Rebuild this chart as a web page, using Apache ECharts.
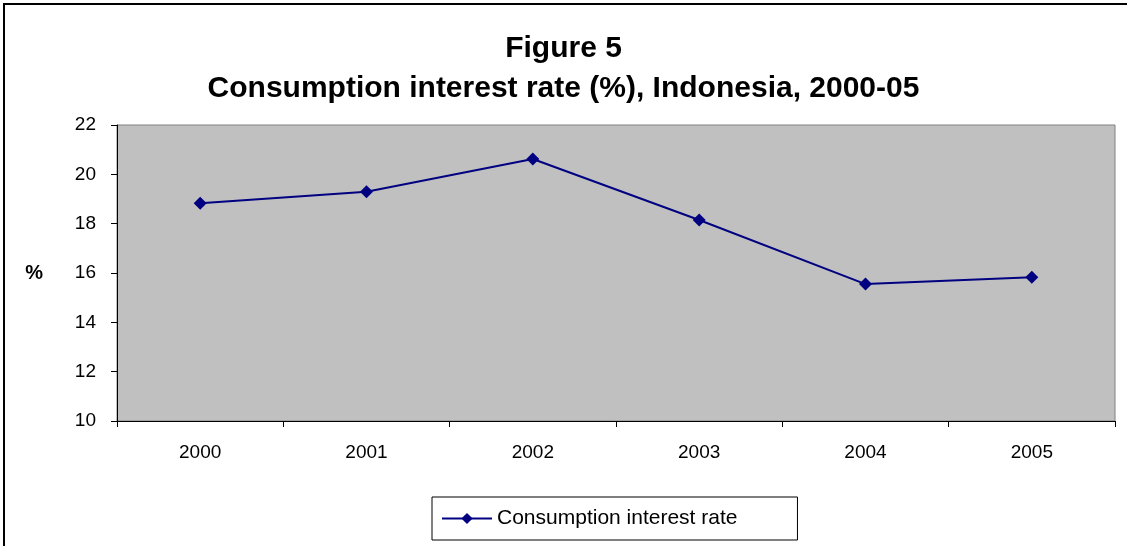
<!DOCTYPE html>
<html>
<head>
<meta charset="utf-8">
<script src="https://cdn.jsdelivr.net/npm/echarts@6/dist/echarts.min.js"></script>
<style>
html,body{margin:0;padding:0;background:#fff;}
#c{width:1127px;height:546px;}
</style>
</head>
<body>
<div id="c"></div>
<script>
var categories = ['2000', '2001', '2002', '2003', '2004', '2005'];
var rateValues = [18.83, 19.29, 20.62, 18.15, 15.55, 15.83];
var yTicks = [10, 12, 14, 16, 18, 20, 22];
var seriesName = 'Consumption interest rate';

var chart = echarts.init(document.getElementById('c'));
var font = '"Liberation Sans", Arial, sans-serif';
chart.setOption({
  animation: false,
  backgroundColor: '#fff',
  title: {
    text: 'Figure 5\nConsumption interest rate (%), Indonesia, 2000-05',
    left: 'center',
    top: 24,
    textStyle: { fontFamily: font, fontSize: 30, fontWeight: 'bold', color: '#000', lineHeight: 40 }
  },
  graphic: [{
    type: 'rect',
    shape: { x: 4, y: 4, width: 1200, height: 700 },
    style: { fill: 'none', stroke: '#000', lineWidth: 2 },
    silent: true
  }],
  legend: {
    left: 432,
    top: 497,
    orient: 'horizontal',
    borderColor: '#000',
    borderWidth: 1,
    padding: [11, 60, 11, 9],
    itemWidth: 50,
    itemHeight: 14,
    itemGap: 6,
    textStyle: { fontFamily: font, fontSize: 21, color: '#000' },
    data: [seriesName]
  },
  grid: {
    left: 117,
    right: 12,
    top: 125,
    height: 296,
    show: true,
    backgroundColor: '#C0C0C0',
    borderColor: '#808080',
    borderWidth: 1
  },
  xAxis: {
    type: 'category',
    data: categories,
    boundaryGap: true,
    axisLine: { show: true, lineStyle: { color: '#000', width: 1 } },
    axisTick: { show: true, length: 6, inside: false, lineStyle: { color: '#000' }, alignWithLabel: false },
    axisLabel: { fontFamily: font, fontSize: 19, color: '#000', margin: 22 },
    splitLine: { show: false }
  },
  yAxis: {
    type: 'value',
    min: yTicks[0],
    max: yTicks[yTicks.length - 1],
    interval: 2,
    name: '%',
    nameLocation: 'middle',
    nameRotate: 0,
    nameGap: 74,
    nameTextStyle: { fontFamily: font, fontSize: 20, fontWeight: 'bold', color: '#000' },
    axisLine: { show: true, lineStyle: { color: '#000', width: 1 } },
    axisTick: { show: true, length: 6, lineStyle: { color: '#000' } },
    axisLabel: { fontFamily: font, fontSize: 19, color: '#000', margin: 21 },
    splitLine: { show: false }
  },
  series: [{
    name: seriesName,
    type: 'line',
    data: rateValues,
    symbol: 'diamond',
    symbolSize: 13,
    lineStyle: { color: '#000080', width: 2 },
    itemStyle: { color: '#000080' },
    z: 3
  }]
});
</script>
</body>
</html>
